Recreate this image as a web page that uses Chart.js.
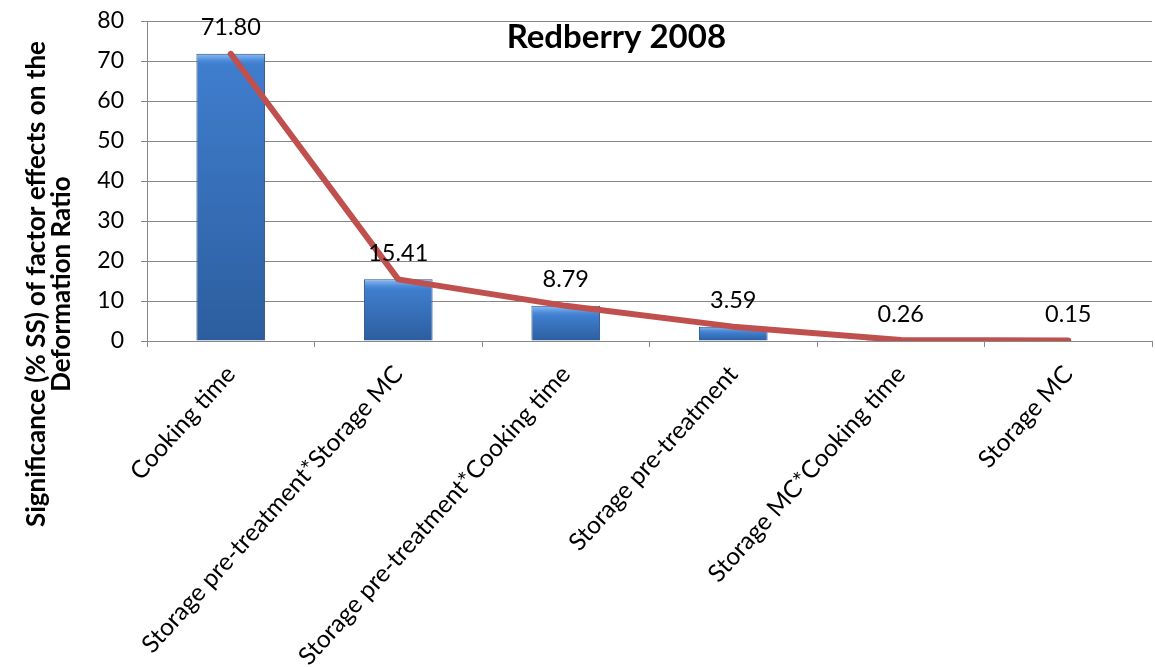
<!DOCTYPE html>
<html>
<head>
<meta charset="utf-8">
<title>Redberry 2008</title>
<script src="https://cdn.jsdelivr.net/npm/chart.js@4"></script>
<style>
  html, body { margin: 0; padding: 0; background: #fff; }
  #wrap { width: 1155px; height: 667px; }
</style>
</head>
<body>
<div id="wrap"><canvas id="chart"></canvas></div>
<script>
const factors = ["Cooking time", "Storage pre-treatment*Storage MC", "Storage pre-treatment*Cooking time",
  "Storage pre-treatment", "Storage MC*Cooking time", "Storage MC"];
const ssPercent = [71.80, 15.41, 8.79, 3.59, 0.26, 0.15];
const yTicks = [0, 10, 20, 30, 40, 50, 60, 70, 80];
const chartTitle = "Redberry 2008";
const yTitle = ["Significance (% SS) of factor effects on the", "Deformation Ratio"];

const FONT = "Lato, 'Open Sans', sans-serif";
const GRID = '#888888';

// blue bevelled look for each bar, built from the bar's own pixel box
function barFill(c) {
  const chart = c.chart;
  const xs = chart.scales.x, ys = chart.scales.y;
  if (!xs || !ys || !chart.chartArea) return '#3b78c8';
  const top = ys.getPixelForValue(c.raw);
  const base = ys.getPixelForValue(0);
  const h = Math.max(base - top, 1);
  const g = chart.ctx.createLinearGradient(0, top, 0, base);
  const edge = Math.min(7 / h, 0.3);
  g.addColorStop(0, '#8dbcf2');
  g.addColorStop(edge, '#4a8ad9');
  g.addColorStop(Math.min(edge * 1.5, 0.45), '#3f7dcd');
  g.addColorStop(1, '#2c5e9f');
  return g;
}

// value labels, chart title and the two-line y axis title
const textExtras = {
  id: 'textExtras',
  afterDatasetsDraw(chart) {
    const ctx = chart.ctx;
    const area = chart.chartArea;
    const bars = chart.getDatasetMeta(1).data;
    ctx.save();
    ctx.fillStyle = '#000';
    ctx.textAlign = 'center';
    ctx.textBaseline = 'middle';
    ctx.font = "23.5px " + FONT;
    bars.forEach((b, i) => {
      ctx.fillText(ssPercent[i].toFixed(2), b.x, b.y - 26);
    });

    ctx.font = "bold 33px " + FONT;
    ctx.fillText(chartTitle, area.left + area.width * 0.467, area.top + 16);

    // rotated axis title, baselines on the right side of each line
    ctx.font = "bold 26px " + FONT;
    ctx.textBaseline = 'alphabetic';
    const cy = 284;
    [45, 70].forEach((x, i) => {
      ctx.save();
      ctx.translate(x, cy);
      ctx.rotate(-Math.PI / 2);
      ctx.fillText(yTitle[i], 0, 0);
      ctx.restore();
    });
    ctx.restore();
  }
};

const ctx = document.getElementById('chart').getContext('2d');
const chart = new Chart(ctx, {
  data: {
    labels: factors,
    datasets: [
      {
        type: 'line',
        label: 'trend',
        data: ssPercent,
        borderColor: '#c0504d',
        borderWidth: 6,
        borderCapStyle: 'round',
        borderJoinStyle: 'round',
        pointRadius: 0,
        tension: 0,
        fill: false,
        order: 0
      },
      {
        type: 'bar',
        label: '% SS',
        data: ssPercent,
        backgroundColor: barFill,
        borderColor: '#2a4f80',
        borderWidth: 1,
        barPercentage: 0.41,
        categoryPercentage: 1,
        order: 1
      }
    ]
  },
  options: {
    responsive: true,
    maintainAspectRatio: false,
    animation: false,
    layout: { padding: { left: 0, top: 21, right: 3, bottom: 0 } },
    plugins: {
      legend: { display: false },
      tooltip: { enabled: false }
    },
    scales: {
      x: {
        offset: true,
        grid: { offset: true, drawOnChartArea: false, drawTicks: true, tickLength: 6, color: GRID },
        border: { color: GRID, width: 1 },
        ticks: {
          color: '#000',
          font: { family: FONT, size: 24.5 },
          minRotation: 48,
          maxRotation: 48,
          autoSkip: false,
          padding: 13
        },
        afterFit(s) { s.height = 326; }
      },
      y: {
        min: 0,
        max: 80,
        afterBuildTicks(s) { s.ticks = yTicks.map(v => ({ value: v })); },
        grid: { color: GRID, tickLength: 6 },
        border: { color: GRID, width: 1 },
        ticks: {
          color: '#000',
          font: { family: FONT, size: 23 },
          padding: 17
        },
        afterFit(s) {
          s.width = 147;
          s.paddingTop = 0;
          s.paddingBottom = 0;
        }
      }
    }
  },
  plugins: [textExtras]
});
</script>
</body>
</html>
